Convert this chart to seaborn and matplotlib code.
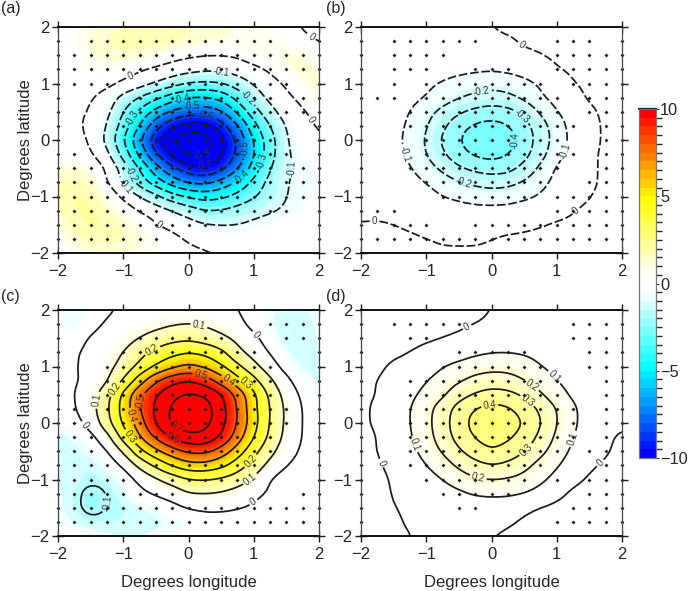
"""Four panel composite maps with stippling and a shared colorbar."""

import numpy as np
import pandas as pd
import matplotlib
matplotlib.use('Agg')
import matplotlib.pyplot as plt
from matplotlib.colors import LinearSegmentedColormap, BoundaryNorm
import seaborn as sns

# Grid
LONS = [-2, -1.75, -1.5, -1.25, -1, -0.75, -0.5, -0.25, 0, 0.25, 0.5, 0.75, 1, 1.25, 1.5, 1.75, 2]
LATS = [2, 1.75, 1.5, 1.25, 1, 0.75, 0.5, 0.25, 0, -0.25, -0.5, -0.75, -1, -1.25, -1.5, -1.75, -2]

# Contoured field, hundredths, rows go from lat 2 down to lat -2
FIELD_A = [
    [2, 4, 8, 10, 11, 12, 12, 12, 11, 10, 9, 8, 7, 5, 3, -1, -3],
    [2, 6, 10, 12, 13, 14, 14, 13, 12, 10, 9, 9, 9, 8, 6, 2, -1],
    [1, 4, 8, 10, 11, 10, 7, 3, 1, 0, 0, 1, 6, 9, 10, 9, 5],
    [1, 4, 6, 7, 4, 1, -2, -4, -6, -8, -8, -6, -3, 1, 8, 10, 9],
    [2, 4, 4, 3, -1, -5, -10, -15, -20, -21, -20, -15, -9, -4, 1, 8, 10],
    [2, 2, 1, -4, -14, -21, -28, -36, -41, -42, -38, -27, -15, -7, -2, 2, 9],
    [1, 1, 0, -7, -20, -32, -44, -52, -55, -55, -52, -38, -24, -13, -5, -1, 3],
    [1, 1, -1, -10, -24, -40, -57, -67, -74, -74, -65, -52, -33, -20, -9, -3, 1],
    [2, 2, 0, -13, -30, -50, -68, -81, -90, -87, -73, -60, -39, -25, -10, -4, 0],
    [5, 4, 1, -7, -24, -43, -60, -72, -82, -83, -72, -59, -41, -24, -11, -6, -4],
    [8, 9, 8, -1, -13, -30, -46, -58, -66, -70, -64, -52, -36, -20, -11, -8, -6],
    [12, 13, 11, 0, -12, -25, -36, -45, -52, -53, -47, -38, -27, -16, -10, -8, -6],
    [13, 15, 14, 8, -2, -9, -17, -26, -31, -34, -32, -27, -21, -15, -10, -7, -5],
    [11, 14, 15, 12, 6, -1, -4, -9, -14, -20, -19, -16, -13, -11, -9, -6, -3],
    [8, 13, 15, 14, 11, 7, 0, -3, -6, -9, -10, -10, -8, -6, -5, -3, -1],
    [5, 11, 13, 13, 12, 10, 6, 3, -1, -3, -4, -4, -4, -3, -2, -1, 0],
    [1, 5, 7, 8, 8, 7, 6, 4, 2, 1, 0, -1, -2, -2, -1, 0, 0],
]
FIELD_B = [
    [-3, -3, -3, -3, -3, -3, -2, -1, 0, 1, 1, 1, 1, 1, 1, 1, 1],
    [-3, -3, -3, -3, -3, -3, -3, -2, -1, -1, 1, 1, 2, 2, 2, 2, 2],
    [-3, -3, -3, -3, -3, -4, -4, -4, -3, -2, -1, 0, 1, 2, 2, 2, 2],
    [-3, -3, -3, -4, -5, -6, -7, -8, -9, -8, -6, -3, 0, 1, 2, 2, 2],
    [-3, -3, -4, -5, -8, -11, -14, -16, -17, -16, -13, -9, -4, 0, 1, 2, 2],
    [-3, -3, -4, -7, -10, -15, -19, -22, -24, -22, -18, -11, -6, -2, 1, 2, 2],
    [-3, -3, -5, -10, -17, -23, -29, -33, -35, -34, -28, -19, -10, -5, -1, 1, 2],
    [-3, -4, -6, -12, -19, -28, -37, -42, -44, -41, -34, -25, -15, -6, -2, 1, 2],
    [-3, -4, -7, -13, -21, -32, -40, -46, -48, -45, -36, -26, -16, -7, -2, 1, 2],
    [-3, -4, -6, -12, -20, -29, -37, -42, -44, -41, -34, -24, -14, -5, -1, 1, 2],
    [-3, -3, -5, -9, -16, -22, -29, -33, -35, -34, -27, -18, -8, -4, -1, 1, 2],
    [-3, -3, -4, -6, -10, -15, -19, -22, -24, -23, -19, -13, -7, -3, -1, 1, 1],
    [-3, -3, -3, -4, -6, -10, -12, -14, -15, -14, -12, -9, -5, -2, 0, 1, 1],
    [-3, -2, -2, -3, -4, -5, -6, -7, -7, -7, -5, -4, -2, 0, 1, 1, 1],
    [1, 1, 0, -1, -2, -2, -3, -3, -2, -2, -1, 0, 1, 1, 1, 1, 1],
    [2, 2, 2, 1, 0, -1, -1, -1, 0, 1, 1, 1, 1, 1, 1, 1, 1],
    [2, 2, 2, 2, 2, 1, 1, 1, 1, 2, 2, 2, 2, 2, 2, 2, 2],
]
FIELD_C = [
    [-5, -7, -5, -1, 1, 2, 3, 4, 5, 4, 2, 0, -3, -6, -8, -8, -5],
    [-5, -8, -2, 1, 3, 5, 7, 9, 10, 9, 6, 2, -3, -7, -9, -9, -6],
    [-4, -3, 1, 3, 6, 10, 14, 17, 18, 15, 12, 8, 2, -4, -9, -9, -6],
    [-2, -1, 2, 5, 10, 17, 23, 27, 30, 28, 23, 12, 6, -1, -7, -9, -7],
    [-2, -1, 3, 7, 13, 22, 30, 37, 42, 38, 31, 22, 13, 4, -4, -8, -8],
    [-3, -1, 2, 8, 20, 35, 50, 58, 61, 56, 45, 33, 23, 12, 2, -5, -8],
    [-4, 0, 5, 17, 33, 50, 60, 68, 72, 70, 63, 48, 33, 18, 6, -2, -6],
    [-4, -1, 6, 18, 34, 50, 62, 72, 78, 76, 64, 50, 32, 20, 8, -1, -4],
    [-5, -3, 3, 17, 32, 45, 62, 73, 77, 74, 64, 50, 34, 19, 8, -1, -4],
    [-8, -7, -3, 5, 25, 40, 52, 62, 68, 68, 60, 46, 30, 18, 7, -1, -4],
    [-9, -8, -6, -1, 10, 28, 38, 46, 52, 53, 46, 35, 23, 13, 4, -2, -3],
    [-8, -9, -9, -6, 1, 12, 22, 31, 37, 37, 33, 25, 16, 7, 0, -3, -3],
    [-7, -8, -9, -9, -6, 2, 8, 14, 19, 20, 18, 15, 9, -1, -5, -6, -4],
    [-6, -9, -12, -10, -8, -2, 1, 4, 10, 10, 9, 6, 1, -1, -4, -4, -3],
    [-6, -9, -12, -10, -9, -8, -6, -3, 0, 1, 1, 0, -1, -2, -4, -4, -2],
    [-5, -8, -9, -9, -9, -8, -8, -7, -5, -3, -3, -3, -3, -3, -2, -1, -1],
    [-2, -3, -5, -6, -7, -7, -6, -5, -4, -3, -2, -2, -2, -2, -1, -1, -1],
]
FIELD_D = [
    [-3, -3, -3, -3, -2, -2, -2, -1, 0, 1, 1, 1, 1, 1, 1, 1, 0],
    [-3, -3, -3, -3, -3, -2, -1, 0, 1, 1, 2, 2, 2, 2, 2, 1, 1],
    [-3, -3, -3, -2, -1, 0, 1, 2, 2, 3, 3, 3, 3, 3, 2, 2, 1],
    [-2, -2, -1, 0, 2, 3, 5, 8, 10, 10, 9, 7, 5, 3, 2, 2, 1],
    [-2, -1, 1, 2, 5, 10, 13, 16, 17, 17, 15, 10, 7, 4, 3, 2, 1],
    [-1, 0, 2, 4, 10, 14, 19, 23, 25, 24, 20, 15, 10, 6, 3, 2, 1],
    [-1, 0, 2, 8, 13, 18, 26, 31, 34, 33, 29, 21, 14, 8, 4, 2, 1],
    [-1, 1, 3, 10, 17, 25, 35, 41, 44, 42, 36, 29, 20, 12, 5, 2, 1],
    [-1, 1, 3, 10, 17, 26, 36, 44, 48, 46, 40, 31, 20, 12, 5, 2, 1],
    [-2, 0, 3, 9, 16, 25, 34, 41, 45, 42, 36, 28, 18, 10, 4, 1, -1],
    [-2, 0, 3, 7, 14, 21, 29, 35, 40, 36, 31, 23, 15, 8, 3, 1, -2],
    [-2, -1, 2, 4, 10, 15, 22, 27, 30, 28, 23, 16, 11, 5, 1, -1, -3],
    [-3, -2, 1, 2, 6, 10, 15, 19, 20, 19, 17, 12, 7, 2, -1, -3, -3],
    [-3, -3, 1, 1, 3, 5, 8, 11, 12, 12, 10, 7, 2, -2, -3, -4, -4],
    [-3, -3, 0, 1, 2, 3, 3, 4, 4, 3, 1, -1, -2, -3, -4, -4, -4],
    [-3, -3, -1, 1, 1, 2, 2, 2, 2, 1, -1, -2, -3, -3, -4, -4, -3],
    [-3, -3, -2, 0, 1, 1, 1, 1, 0, -1, -2, -2, -3, -3, -3, -3, -3],
]

# Colour units per unit of the contoured field, positive and negative side
SCALE_POS = [18, 7, 17, 7]
SCALE_NEG = [15, 7, 26, 7]
WHITE_GAP = 0.03

# Significant grid points, rows from lat 1.75 down to lat -1.75
STIPPLE_A = [
    "x.xxxxxxxxxxxx..x", "xxxxxxxxxxxxxxxxx", "xxxxxxxxxxxxxxxxx", "xxxx..xxxxxxxxx.x", "x....xxxxxxxxx.xx",
    "x...xxxxxxxxxxxxx", "x...xxxxxxxxxx..x", "x....xxxxxxxxx..x", "xx...xxxxxxxxxx.x", "xxx.xxxxxxxxxx.xx",
    "xxxxxxxxxxxxxxxxx", "xxxxxxxxxxxxxxxxx", "xxxxxxxxxxxxxxx.x", "xxxxxxxxxx......x", "xxxxxxx.........x",
]
STIPPLE_B = [
    "x.xxxxxx....xxx.x", "x.xxxx......xxxxx", "x.xxx..xxx..xxxxx", "x.x.x.xxxxxx.xxxx", "xxx.xxxxxxxxx.xxx",
    "x..xxxxxxxxxx.xxx", "x..xxxxxxxxxxx.xx", "x...xxxxxxxxx..xx", "x...xxxxxxxxxx.xx", "x..xxxxxxxxxx..xx",
    "x...xxxxxxxx..xxx", "x....xxxxxx.xxxxx", "xxx.........xxxxx", "x.xxx..xxxxxxxxxx", "xxxxxxxxxxxxxxxxx",
]
STIPPLE_C = [
    "x............xxxx", "x....xxxxxx...xxx", "x...xxxxxxxxx...x", "x..xxxxxxxxxxx..x", "x..xxxxxxxxxxx..x",
    "x..xxxxxxxxxxx..x", "xx.xxxxxxxxxxxx.x", "xx..xxxxxxxxxxx.x", "xxx.xxxxxxxxxx..x", "xxx..xxxxxxxxx..x",
    "xxxx..xxxxxxx...x", "xxxxx..xxxxx....x", "xxxxxxxx.......xx", "xxxxxxxxxxxxxxxxx", "xxxxxxxxxxxxxxxxx",
]
STIPPLE_D = [
    "x.xxxxx......xxxx", "x..xx........xxxx", "x.....xxxxx...xxx", "x....xxxxxxx..xxx", "x..xxxxxxxxxx..xx",
    "x..xxxxxxxxxx..xx", "x..xxxxxxxxxxx.xx", "x..xxxxxxxxxxx.xx", "x..xxxxxxxxxxx.xx", "x..xxxxxxxxxx.xxx",
    "x..xxxxxxxxx...xx", "x...xxxxxxx.x.xxx", "x....xxxxx....xxx", "x.....xx.....xxxx", "x...........xxxxx",
]

CONTOUR_LEVELS_A = [-0.8, -0.7, -0.6, -0.5, -0.4, -0.3, -0.2, -0.1, 0]
CONTOUR_LEVELS_B = [-0.4, -0.3, -0.2, -0.1, 0]
CONTOUR_LEVELS_C = [-0.1, 0, 0.1, 0.2, 0.3, 0.4, 0.5, 0.6, 0.7]
CONTOUR_LEVELS_D = [0, 0.1, 0.2, 0.3, 0.4]
PANEL_NAMES = ['(a)', '(b)', '(c)', '(d)']
CBAR_TICKS = [-10, -5, 0, 5, 10]
CBAR_LABELS = ['\u221210', '\u22125', '0', '5', '10']

# Where the contour labels sit
LABELS_A = [(-0.9, 1.15), (1.8, 0.3), (1.8, 1.68), (-0.5, -1.56), (0.5, 1.16), (1.63, -0.5), (-1.0, -0.85),
            (0.88, 0.73), (-0.9, -0.62), (-0.82, 0.35), (1.17, -0.38), (-0.1, 0.72), (0.84, -0.68),
            (0.05, 0.58), (0.84, -0.15), (0.25, 0.41), (0.25, -0.5), (0.2, -0.27)]
LABELS_B = [(0.47, 1.7), (-1.79, -1.48), (1.28, -1.23), (-1.35, -0.25), (1.15, -0.2), (-0.15, 0.85),
            (-0.45, -0.82), (0.4, 0.35), (0.27, 0.0)]
LABELS_C = [(0.15, 1.68), (1.0, 1.53), (-1.62, -0.06), (1.0, -1.41), (-1.37, 0.4), (0.95, -1.0), (-0.55, 1.28),
            (-1.13, 0.6), (0.96, -0.68), (0.85, 0.68), (-0.93, -0.27), (-0.88, 0.12), (0.58, 0.7),
            (0.18, 0.8), (-0.67, 0.38), (-0.26, -0.32), (-0.22, -0.1), (-1.25, -1.42)]
LABELS_D = [(-0.36, 1.67), (-1.67, -0.7), (1.67, -0.71), (0.97, 0.82), (-1.25, -0.4), (1.3, -0.3),
            (0.62, 0.67), (-0.21, -0.99), (0.54, 0.38), (0.57, -0.52), (-0.03, 0.33)]

# Axes boxes in pixels: left, top, right, bottom
BOXES = [(58, 27, 319, 253), (361, 27, 622, 253), (58, 310, 319, 536), (361, 310, 622, 536)]
NAME_POS = [(1, 9), (326, 9), (1, 297), (326, 297)]
CBAR_BOX = (638.5, 109, 656, 458)
FIG_W, FIG_H = 688, 591

sns.set_theme(style='ticks')
plt.rcParams['font.family'] = ['Liberation Sans', 'DejaVu Sans']


def pixel_axes(fig, box):
    left, top, right, bottom = box
    return fig.add_axes([left / FIG_W, 1 - bottom / FIG_H, (right - left) / FIG_W, (bottom - top) / FIG_H])


def stipple_frame(rows):
    """Turn the stipple rows into a table of lon/lat points."""
    pts = []
    for lat, row in zip(LATS[1:-1], rows):
        for lon, flag in zip(LONS, row):
            if flag == 'x':
                pts.append((lon, lat))
    return pd.DataFrame(pts, columns=['lon', 'lat'])


def soften(z, factor=4):
    """Take the roughness of the read-off grid away and draw it on a finer mesh."""
    def along(a, axis):
        a = np.moveaxis(a, axis, 0)
        pad = np.concatenate([a[:1], a, a[-1:]])
        a = 0.15 * pad[:-2] + 0.7 * pad[1:-1] + 0.15 * pad[2:]
        # Catmull-Rom between the grid nodes
        n = a.shape[0]
        t = np.linspace(0, n - 1, (n - 1) * factor + 1)
        i = np.minimum(t.astype(int), n - 2)
        f = (t - i).reshape((-1,) + (1,) * (a.ndim - 1))
        p0, p1, p2, p3 = a[np.maximum(i - 1, 0)], a[i], a[i + 1], a[np.minimum(i + 2, n - 1)]
        out = 0.5 * (2 * p1 + (p2 - p0) * f + (2 * p0 - 5 * p1 + 4 * p2 - p3) * f ** 2 + (3 * p1 - p0 - 3 * p2 + p3) * f ** 3)
        return np.moveaxis(out, 0, axis)
    return along(along(z, 0), 1)


cmap = LinearSegmentedColormap.from_list('bwr_cy', [
    (0.0, '#0000ff'), (0.25, '#00ffff'), (0.475, '#ffffff'), (0.525, '#ffffff'),
    (0.75, '#ffff00'), (1.0, '#ff0000')], N=40)
levels = np.arange(-10, 10.5, 0.5)
norm = BoundaryNorm(levels, cmap.N)

fig = plt.figure(figsize=(FIG_W / 100, FIG_H / 100), dpi=100)

fields = [FIELD_A, FIELD_B, FIELD_C, FIELD_D]
stipples = [STIPPLE_A, STIPPLE_B, STIPPLE_C, STIPPLE_D]
label_pos = [LABELS_A, LABELS_B, LABELS_C, LABELS_D]
contour_levels = [CONTOUR_LEVELS_A, CONTOUR_LEVELS_B, CONTOUR_LEVELS_C, CONTOUR_LEVELS_D]
line_style = [(0, (5, 1.6)), (0, (5, 1.6)), 'solid', 'solid']
xx = np.linspace(-2, 2, 65)
yy = np.linspace(2, -2, 65)

filled = None
for i in range(4):
    ax = pixel_axes(fig, BOXES[i])
    z = soften(np.array(fields[i]) / 100.0)
    gap = np.maximum(np.abs(z) - WHITE_GAP, 0)
    shade = np.where(z > 0, gap * SCALE_POS[i], -gap * SCALE_NEG[i])
    filled = ax.contourf(xx, yy, np.clip(shade, -9.99, 9.99), levels=levels, cmap=cmap, norm=norm)
    cs = ax.contour(xx, yy, z, levels=contour_levels[i], colors='k', linewidths=1.25,
                    linestyles=[line_style[i]] * len(contour_levels[i]))
    labs = ax.clabel(cs, fmt='%g', fontsize=7, inline=True, inline_spacing=2, manual=label_pos[i])
    for t in labs:
        t.set_color('#333333')

    pts = stipple_frame(stipples[i])
    sns.scatterplot(data=pts, x='lon', y='lat', ax=ax, s=4, color='k', marker='D', linewidth=0, clip_on=False, zorder=5)

    ax.set_xlim(-2, 2)
    ax.set_ylim(-2, 2)
    ax.set_xticks([-2, -1, 0, 1, 2])
    ax.set_yticks([-2, -1, 0, 1, 2])
    ax.tick_params(direction='inout', length=8, width=1.0, top=True, right=True, labelsize=12, color='k')
    ax.tick_params(axis='x', pad=4)
    ax.tick_params(axis='y', pad=2)
    for side, sp in ax.spines.items():
        sp.set_linewidth(1.4 if side in ('top', 'bottom') else 0.9)
        sp.set_color('#111111' if side in ('top', 'bottom') else '#444444')
        sp.set_zorder(6)
    ax.set_xlabel('Degrees longitude' if i >= 2 else '', fontsize=12, labelpad=9.5)
    ax.set_ylabel('Degrees latitude' if i % 2 == 0 else '', fontsize=12, labelpad=-2)
    fig.text(NAME_POS[i][0] / FIG_W, 1 - NAME_POS[i][1] / FIG_H, PANEL_NAMES[i], fontsize=11.5, va='center')

# Colorbar
cax = pixel_axes(fig, CBAR_BOX)
cb = fig.colorbar(filled, cax=cax, ticks=CBAR_TICKS, spacing='proportional')
cb.ax.tick_params(labelsize=11.8, direction='inout', length=4, width=0.8, pad=1, color='#333333')
cb.set_ticklabels(CBAR_LABELS)
cb.outline.set_edgecolor('#777777')
cb.outline.set_linewidth(0.9)
cax.axhline(10, color='#111111', lw=1.6, clip_on=False)

fig.savefig('out.png', dpi=100)
